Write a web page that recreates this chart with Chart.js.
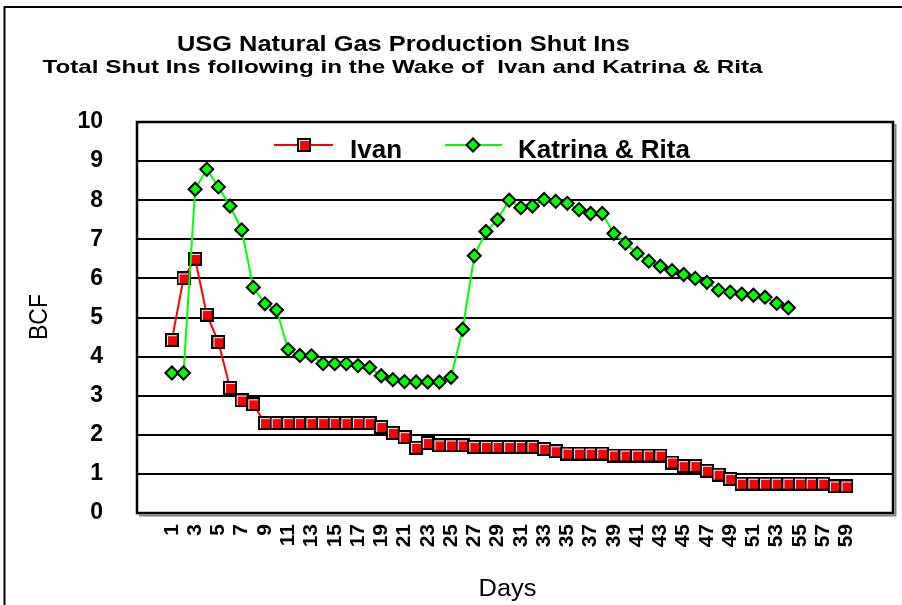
<!DOCTYPE html>
<html>
<head>
<meta charset="utf-8">
<title>USG Natural Gas Production Shut Ins</title>
<script src="https://cdn.jsdelivr.net/npm/chart.js@4.4.0/dist/chart.umd.min.js"></script>
<style>
    html, body { margin: 0; padding: 0; background: #fff; }
    #wrap { width: 902px; height: 605px; }
</style>
</head>
<body>
<div id="wrap"><canvas id="shutInChart" width="902" height="605"></canvas></div>
<script>
// Days after landfall (x axis)
const days = [1, 2, 3, 4, 5, 6, 7, 8, 9, 10, 11, 12, 13, 14, 15, 16, 17, 18, 19, 20,
    21, 22, 23, 24, 25, 26, 27, 28, 29, 30, 31, 32, 33, 34, 35, 36, 37, 38, 39, 40,
    41, 42, 43, 44, 45, 46, 47, 48, 49, 50, 51, 52, 53, 54, 55, 56, 57, 58, 59];

// Only odd days get a tick label
const xTickDays = [1, 3, 5, 7, 9, 11, 13, 15, 17, 19, 21, 23, 25, 27, 29, 31, 33, 35, 37, 39,
    41, 43, 45, 47, 49, 51, 53, 55, 57, 59];
const yTicks = [0, 1, 2, 3, 4, 5, 6, 7, 8, 9, 10];

// BCF shut in, Ivan
const ivan = [4.42, 6.0, 6.5, 5.07, 4.37, 3.2, 2.88, 2.78, 2.3, 2.3,
    2.3, 2.3, 2.3, 2.3, 2.3, 2.3, 2.3, 2.3, 2.2, 2.05,
    1.94, 1.67, 1.79, 1.73, 1.73, 1.73, 1.69, 1.69, 1.69, 1.69,
    1.69, 1.69, 1.64, 1.58, 1.52, 1.52, 1.52, 1.52, 1.47, 1.47,
    1.47, 1.47, 1.47, 1.29, 1.2, 1.2, 1.08, 0.98, 0.87, 0.75,
    0.75, 0.75, 0.75, 0.75, 0.75, 0.75, 0.75, 0.68, 0.68];

// BCF shut in, Katrina & Rita
const katrinaRita = [3.58, 3.58, 8.28, 8.79, 8.34, 7.85, 7.24, 5.77, 5.35, 5.19,
    4.18, 4.03, 4.02, 3.82, 3.82, 3.82, 3.77, 3.72, 3.51, 3.41,
    3.36, 3.35, 3.35, 3.35, 3.47, 4.7, 6.58, 7.2, 7.5, 8.0,
    7.81, 7.85, 8.02, 7.97, 7.92, 7.76, 7.66, 7.66, 7.15, 6.9,
    6.64, 6.44, 6.31, 6.2, 6.1, 6.0, 5.9, 5.7, 5.65, 5.6,
    5.57, 5.52, 5.36, 5.25];

const FONT = '"Liberation Sans", Arial, Helvetica, sans-serif';
const RED = '#ff0000';
const GREEN = '#00ff00';

// Excel style square marker: black frame, thin white edge, red fill
function makeSquareMarker() {
    const c = document.createElement('canvas');
    c.width = 14;
    c.height = 14;
    const g = c.getContext('2d');
    g.fillStyle = '#000';
    g.fillRect(0, 0, 14, 14);
    g.fillStyle = '#fff';
    g.fillRect(2, 2, 10, 10);
    g.fillStyle = RED;
    g.fillRect(3, 3, 9, 9);
    return c;
}
const squareMarker = makeSquareMarker();

function drawDiamond(ctx, x, y, r) {
    ctx.beginPath();
    ctx.moveTo(x, y - r);
    ctx.lineTo(x + r, y);
    ctx.lineTo(x, y + r);
    ctx.lineTo(x - r, y);
    ctx.closePath();
    ctx.fillStyle = GREEN;
    ctx.fill();
    ctx.lineWidth = 2;
    ctx.strokeStyle = '#000';
    ctx.stroke();
}

// text squeezed/stretched horizontally to a given width (the original is a scaled Excel chart)
function drawText(ctx, text, cx, baseline, font, width) {
    ctx.save();
    ctx.font = font;
    const w = ctx.measureText(text).width;
    const sx = width ? width / w : 1;
    ctx.translate(cx, baseline);
    ctx.scale(sx, 1);
    ctx.textAlign = 'center';
    ctx.textBaseline = 'alphabetic';
    ctx.fillStyle = '#000';
    ctx.fillText(text, 0, 0);
    ctx.restore();
}

const decorations = {
    id: 'decorations',
    beforeDraw(chart) {
        const ctx = chart.ctx;
        ctx.save();
        ctx.fillStyle = '#fff';
        ctx.fillRect(0, 0, chart.width, chart.height);
        ctx.restore();
    },
    afterDraw(chart) {
        const ctx = chart.ctx;
        const a = chart.chartArea;
        ctx.save();

        // plot area frame with grey drop shadow
        ctx.strokeStyle = '#808080';
        ctx.lineWidth = 2;
        ctx.beginPath();
        ctx.moveTo(a.left + 2, a.bottom + 2.5);
        ctx.lineTo(a.right + 2.5, a.bottom + 2.5);
        ctx.lineTo(a.right + 2.5, a.top + 2);
        ctx.stroke();
        ctx.strokeStyle = '#000';
        ctx.lineWidth = 2.5;
        ctx.strokeRect(a.left, a.top, a.right - a.left, a.bottom - a.top);

        // outer chart frame (only left and top edges are in view)
        ctx.lineWidth = 2;
        ctx.beginPath();
        ctx.moveTo(4.5, chart.height);
        ctx.lineTo(4.5, 7);
        ctx.lineTo(chart.width, 7);
        ctx.stroke();

        // titles
        drawText(ctx, 'USG Natural Gas Production Shut Ins', 403.5, 51, 'bold 22px ' + FONT, 453);
        drawText(ctx, 'Total Shut Ins following in the Wake of  Ivan and Katrina & Rita', 402.5, 73, 'bold 19px ' + FONT, 720);

        // legend inside the plot
        ctx.lineWidth = 2;
        ctx.strokeStyle = RED;
        ctx.beginPath();
        ctx.moveTo(274, 145);
        ctx.lineTo(333, 145);
        ctx.stroke();
        ctx.drawImage(squareMarker, 297, 138);
        ctx.strokeStyle = GREEN;
        ctx.beginPath();
        ctx.moveTo(445, 145);
        ctx.lineTo(502, 145);
        ctx.stroke();
        drawDiamond(ctx, 473, 145, 6.5);
        ctx.font = 'bold 26px ' + FONT;
        ctx.fillStyle = '#000';
        ctx.textAlign = 'left';
        ctx.textBaseline = 'alphabetic';
        ctx.fillText('Ivan', 350, 158);
        ctx.fillText('Katrina & Rita', 518, 158);

        // axis titles
        drawText(ctx, 'Days', 507.5, 596, '23px ' + FONT, 58);
        ctx.translate(40, 317);
        ctx.rotate(-Math.PI / 2);
        ctx.scale(1, 1.15);
        ctx.font = '23px ' + FONT;
        ctx.textAlign = 'center';
        ctx.textBaseline = 'middle';
        ctx.fillText('BCF', 0, 0);
        ctx.restore();
    }
};

const tickFont = { family: FONT, weight: 'bold' };

new Chart(document.getElementById('shutInChart'), {
    type: 'line',
    data: {
        datasets: [
            {
                label: 'Ivan',
                data: ivan.map((v, i) => ({ x: days[i], y: v })),
                borderColor: RED,
                borderWidth: 2,
                pointStyle: squareMarker,
                pointRadius: 7,
                order: 2
            },
            {
                label: 'Katrina & Rita',
                data: katrinaRita.map((v, i) => ({ x: days[i], y: v })),
                borderColor: GREEN,
                borderWidth: 2,
                pointStyle: 'rectRot',
                pointRadius: 6.5,
                pointBackgroundColor: GREEN,
                pointBorderColor: '#000',
                pointBorderWidth: 2,
                order: 1
            }
        ]
    },
    options: {
        responsive: false,
        animation: false,
        layout: { padding: { left: 27, right: 7, top: 122, bottom: 0 } },
        plugins: {
            legend: { display: false },
            title: { display: false },
            tooltip: { enabled: false }
        },
        scales: {
            x: {
                type: 'linear',
                min: -2,
                max: 63,
                grid: { display: false, drawTicks: false },
                border: { display: false },
                afterBuildTicks: axis => { axis.ticks = xTickDays.map(v => ({ value: v })); },
                afterFit: axis => { axis.height = 92; },
                ticks: {
                    autoSkip: false,
                    minRotation: 90,
                    maxRotation: 90,
                    padding: 11,
                    color: '#000',
                    font: { ...tickFont, size: 21 }
                }
            },
            y: {
                min: 0,
                max: 10,
                grid: { color: '#000', lineWidth: 2, drawTicks: false },
                border: { display: false },
                afterBuildTicks: axis => { axis.ticks = yTicks.map(v => ({ value: v })); },
                afterFit: axis => { axis.width = 110; },
                ticks: {
                    padding: 34,
                    color: '#000',
                    font: { ...tickFont, size: 23 }
                }
            }
        }
    },
    plugins: [decorations]
});
</script>
</body>
</html>
